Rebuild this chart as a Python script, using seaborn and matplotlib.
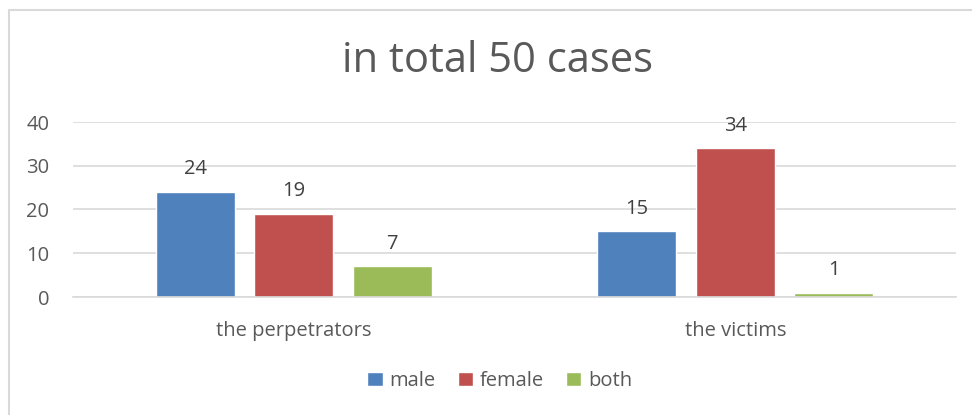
import matplotlib
matplotlib.use("Agg")
import matplotlib.pyplot as plt
import seaborn as sns
import pandas as pd
from matplotlib.lines import Line2D

categories = ["the perpetrators", "the victims"]
series = ["male", "female", "both"]
male = [24, 15]
female = [19, 34]
both = [7, 1]
colors = ["#4F81BD", "#C0504D", "#9BBB59"]
yticks = [0, 10, 20, 30, 40]
title = "in total 50 cases"

rows = []
for s, vals in zip(series, [male, female, both]):
    for c, v in zip(categories, vals):
        rows.append({"category": c, "series": s, "value": v})
df = pd.DataFrame(rows)

sns.set_style("white")
plt.rcParams["font.family"] = ["Open Sans", "DejaVu Sans"]
txt = "#595959"

fig = plt.figure(figsize=(9.72, 4.15), dpi=100)
ax = fig.add_axes([73/972, 1-297/415, (956-73)/972, (297-122)/415])

sns.barplot(data=df, x="category", y="value", hue="series", order=categories,
            hue_order=series, palette=colors, width=0.67, gap=0.2, ax=ax,
            saturation=1, legend=True)

for cont in ax.containers:
    ax.bar_label(cont, padding=9, fontsize=14.5, color="#404040")

ax.set_ylim(0, 40)
ax.set_xlim(-0.5, 1.5)
ax.set_yticks(yticks)
ax.yaxis.grid(True, color="#D9D9D9", linewidth=1.2)
ax.set_axisbelow(True)
for sp in ["top", "right", "left"]:
    ax.spines[sp].set_visible(False)
ax.spines["bottom"].set_color("#D9D9D9")
ax.spines["bottom"].set_linewidth(1.2)
ax.tick_params(axis="both", length=0, labelsize=14.5, colors=txt)
ax.tick_params(axis="x", pad=17)
ax.tick_params(axis="y", pad=17)
ax.set_xlabel("")
ax.set_ylabel("")

h, l = ax.get_legend_handles_labels()
ax.legend_.remove()
fig.legend(h, l, loc="center", bbox_to_anchor=(500/972, 1-381/415), ncol=3, frameon=False,
           fontsize=14.5, labelcolor=txt, handlelength=0.75, handleheight=0.75,
           handletextpad=0.35, columnspacing=1.1)

fig.text(497/972, 1-61/415, title, ha="center", va="center", fontsize=30, color=txt)

fig.add_artist(Line2D([9/972, 9/972, 1.0], [0.0, 1-10/415, 1-10/415], transform=fig.transFigure,
                      color="#D9D9D9", linewidth=1.5))

fig.savefig("out.png", dpi=100)
